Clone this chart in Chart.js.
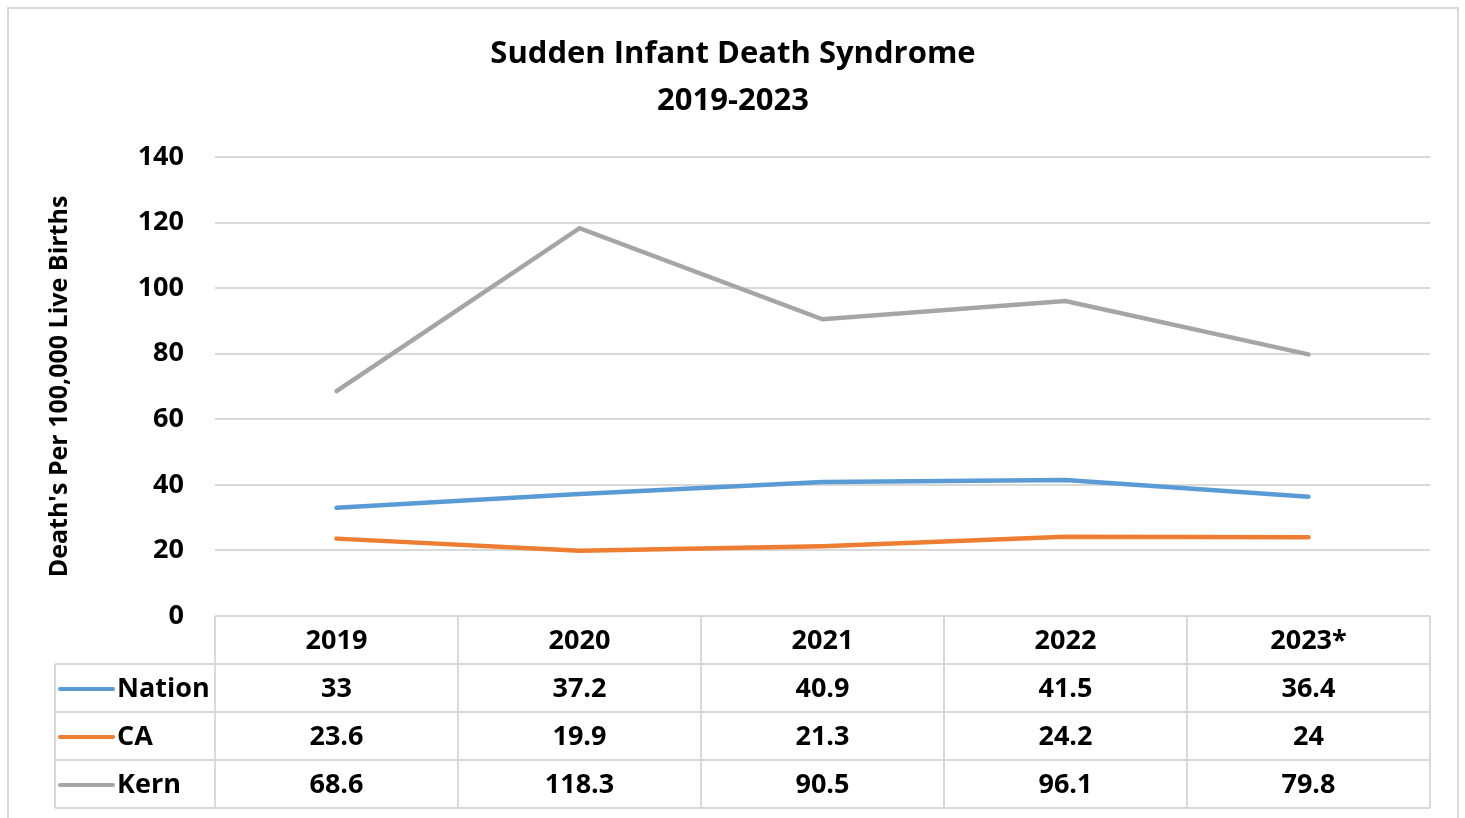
<!DOCTYPE html>
<html>
<head>
<meta charset="utf-8">
<script src="https://cdn.jsdelivr.net/npm/chart.js@4.4.1/dist/chart.umd.min.js"></script>
<style>
  body { margin: 0; background: #fff; }
  #wrap { width: 1465px; height: 818px; }
</style>
</head>
<body>
<div id="wrap"><canvas id="myChart" width="1465" height="818"></canvas></div>
<script>
// data
const years = ["2019", "2020", "2021", "2022", "2023*"];
const nation = [33, 37.2, 40.9, 41.5, 36.4];
const ca = [23.6, 19.9, 21.3, 24.2, 24];
const kern = [68.6, 118.3, 90.5, 96.1, 79.8];
const seriesNames = ["Nation", "CA", "Kern"];
const seriesColors = ["#5B9BD5", "#ED7D31", "#A5A5A5"];

const fontFamily = "'Open Sans', sans-serif";
const gridColor = "#d9d9d9";

// frame + title + data table
const tablePlugin = {
  id: "tablePlugin",
  beforeDraw(chart) {
    const c = chart.ctx;
    c.save();
    c.strokeStyle = gridColor;
    c.lineWidth = 2;
    c.strokeRect(8, 8, 1450, 830);
    c.restore();
  },
  afterDraw(chart) {
    const c = chart.ctx;
    const area = chart.chartArea;
    const x = chart.scales.x;
    const rowH = 48;
    const colW = (area.right - area.left) / years.length;
    const top = area.bottom;
    const legLeft = 55;

    c.save();
    // title
    c.fillStyle = "#000";
    c.textAlign = "center";
    c.textBaseline = "middle";
    c.font = "bold 31px " + fontFamily;
    c.fillText("Sudden Infant Death Syndrome", 733, 54);
    c.fillText("2019-2023", 733, 101);

    // table lines
    c.strokeStyle = gridColor;
    c.lineWidth = 2;
    c.beginPath();
    for (let i = 0; i <= years.length; i++) {
      const lx = area.left + i * colW;
      c.moveTo(lx, top);
      c.lineTo(lx, top + rowH * 4);
    }
    c.moveTo(legLeft, top + rowH);
    c.lineTo(legLeft, top + rowH * 4);
    for (let r = 1; r <= 4; r++) {
      c.moveTo(legLeft, top + r * rowH);
      c.lineTo(area.right, top + r * rowH);
    }
    c.stroke();

    // header + values
    c.font = "bold 27px " + fontFamily;
    c.fillStyle = "#000";
    c.textAlign = "center";
    years.forEach((y, i) => {
      c.fillText(y, x.getPixelForValue(i), top + rowH / 2 + 1);
    });
    const allData = [nation, ca, kern];
    allData.forEach((arr, r) => {
      const cy = top + rowH * (r + 1) + rowH / 2 + 1;
      arr.forEach((v, i) => {
        c.fillText(String(v), x.getPixelForValue(i), cy);
      });
      // legend key
      c.strokeStyle = seriesColors[r];
      c.lineWidth = 4;
      c.lineCap = "round";
      c.beginPath();
      c.moveTo(60, cy);
      c.lineTo(113, cy);
      c.stroke();
      c.textAlign = "left";
      c.fillText(seriesNames[r], 117, cy);
      c.textAlign = "center";
    });
    c.restore();
  },
};

const ctx = document.getElementById("myChart");

new Chart(ctx, {
  type: "line",
  data: {
    labels: years,
    datasets: [
      { label: "Nation", data: nation, borderColor: seriesColors[0] },
      { label: "CA", data: ca, borderColor: seriesColors[1] },
      { label: "Kern", data: kern, borderColor: seriesColors[2] },
    ],
  },
  options: {
    responsive: false,
    animation: false,
    layout: {
      padding: { top: 157, bottom: 202, left: 40, right: 35 },
    },
    elements: {
      line: { borderWidth: 4.5, tension: 0, borderCapStyle: "round" },
      point: { radius: 0 },
    },
    plugins: {
      legend: { display: false },
      tooltip: { enabled: false },
    },
    scales: {
      x: {
        display: false,
        offset: true,
      },
      y: {
        min: 0,
        max: 140,
        ticks: {
          stepSize: 20,
          padding: 31,
          color: "#000",
          font: { family: fontFamily, size: 27, weight: "bold" },
        },
        grid: { color: gridColor, lineWidth: 2, drawTicks: false },
        border: { display: false },
        title: {
          display: true,
          text: "Death's Per 100,000 Live Births",
          color: "#000",
          padding: { top: 5, bottom: 0 },
          font: { family: fontFamily, size: 25, weight: "bold" },
        },
        afterFit(scale) {
          scale.width = 175;
        },
      },
    },
  },
  plugins: [tablePlugin],
});
</script>
</body>
</html>
